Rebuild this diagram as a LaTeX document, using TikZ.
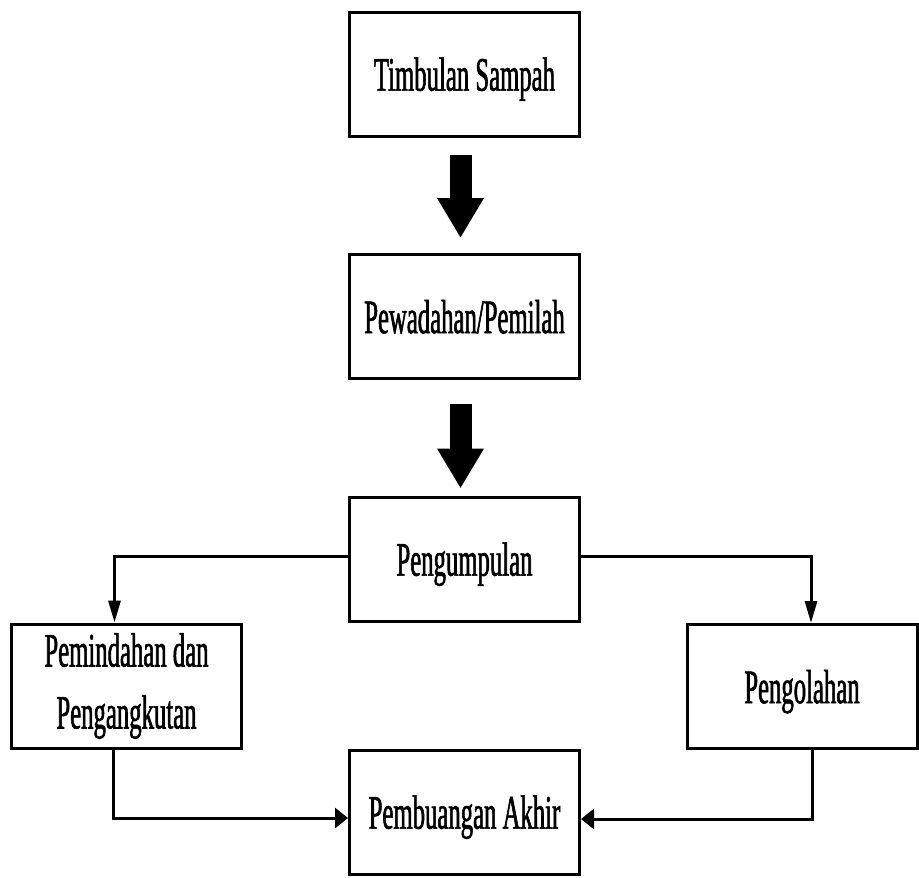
\documentclass[tikz,border=0pt]{standalone}
\usepackage{fontspec}
\setmainfont{Liberation Serif}
\newfontfamily\squeezed[FakeStretch=0.515,FakeBold=1.2]{Liberation Serif}
\usetikzlibrary{arrows.meta}

\begin{document}
\begin{tikzpicture}[x=1pt,y=-1pt,
  box/.style={draw, line width=3pt, minimum width=230pt, minimum height=124pt,
    inner sep=0pt, align=center, text depth=0pt,
    font=\squeezed\fontsize{48}{62}\selectfont},
  bigarrow/.style={line width=22pt, -{Triangle[width=44pt,length=40pt]}},
  vline/.style={line width=3pt, -{Triangle[width=12pt,length=22pt]}},
  hline/.style={line width=3pt, -{Triangle[width=20pt,length=13pt]}}]

\useasboundingbox (0,0) rectangle (919,878);
\fill[white] (0,0) rectangle (919,878);

% process boxes
\node[box] (timbulan) at (464.5,74) {Timbulan Sampah};
\node[box] (pewadahan) at (464.5,316.5) {Pewadahan/Pemilah};
\node[box] (pengumpulan) at (464.5,559) {Pengumpulan};
\node[box, text depth=] (pemindahan) at (126.5,686) {Pemindahan dan\\Pengangkutan};
\node[box] (pengolahan) at (802,686.5) {Pengolahan};
\node[box] (pembuangan) at (464.5,812) {Pembuangan Akhir};

% main flow
\draw[bigarrow] ([xshift=-4pt,yshift=-17pt]timbulan.south) -- ([xshift=-4pt,yshift=15pt]pewadahan.north);
\draw[bigarrow] ([xshift=-4pt,yshift=-24pt]pewadahan.south) -- ([xshift=-4pt,yshift=7pt]pengumpulan.north);

% branches
\draw[vline] ([yshift=3pt]pengumpulan.west) -| ([xshift=-12pt]pemindahan.north);
\draw[vline] ([yshift=3pt]pengumpulan.east) -| ([xshift=9pt]pengolahan.north);
\draw[hline] ([xshift=-13pt]pemindahan.south) |- ([yshift=-6pt]pembuangan.west);
\draw[hline] ([xshift=10pt]pengolahan.south) |- ([yshift=-7pt]pembuangan.east);
\end{tikzpicture}
\end{document}
